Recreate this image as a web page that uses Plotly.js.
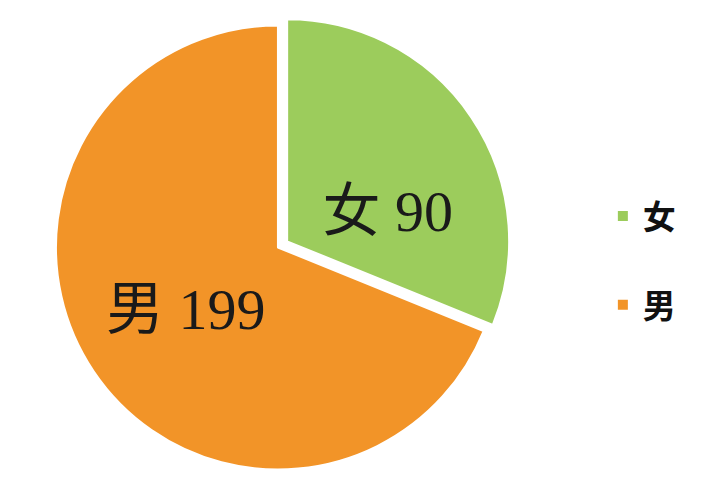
<!DOCTYPE html>
<html>
<head>
<meta charset="utf-8">
<script src="https://cdn.plot.ly/plotly-3.0.1.min.js"></script>
<style>html,body{margin:0;padding:0;background:#fff;}#chart{width:701px;height:481px;}</style>
</head>
<body>
<div id="chart"></div>
<script>
const categories = ['女', '男'];
const counts = [90, 199];
const colors = ['#9ccc5c', '#f29428'];
const pulls = [0.05, 0];

const trace = {
  type: 'pie',
  labels: categories.map(c => c + '<br> '),
  values: counts,
  customdata: categories,
  texttemplate: ['\u00a0<br>%{customdata} %{value}', '%{customdata} %{value}'],
  textinfo: 'text',
  textposition: 'inside',
  insidetextorientation: 'horizontal',
  sort: false,
  direction: 'clockwise',
  rotation: 0,
  pull: pulls,
  marker: {colors: colors, line: {color: '#ffffff', width: 2}},
  textfont: {family: 'Liberation Serif, Noto Sans CJK SC, serif', size: 58, color: '#1a1a1a'},
  domain: {x: [0.064, 0.729], y: [0, 1]},
  hoverinfo: 'none'
};

const layout = {
  width: 701, height: 481,
  margin: {l: 0, r: 0, t: 14, b: 0},
  paper_bgcolor: '#ffffff',
  showlegend: true,
  legend: {
    x: 0.86, y: 0.426, xanchor: 'left', yanchor: 'middle',
    valign: 'top',
    font: {family: 'Noto Sans CJK SC, sans-serif', size: 33, color: '#111111', weight: 'bold'},
    bgcolor: 'rgba(0,0,0,0)'
  }
};

Plotly.newPlot('chart', [trace], layout, {displayModeBar: false, staticPlot: true});
</script>
</body>
</html>
